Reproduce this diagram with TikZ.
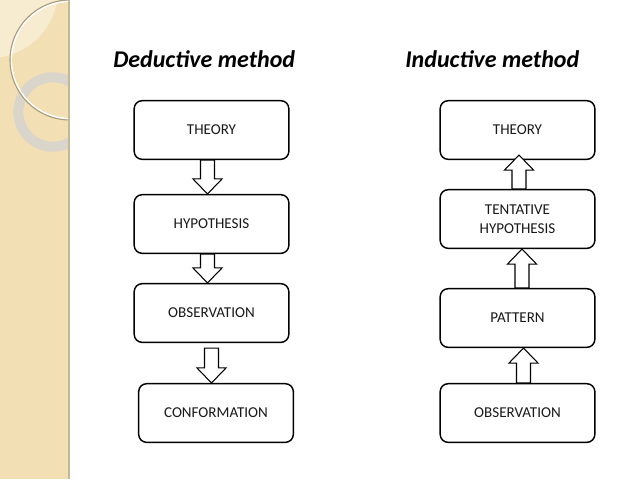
\documentclass[tikz,border=0pt]{standalone}
\usepackage{fontspec}
\setmainfont{Carlito}
\usetikzlibrary{calc}

\definecolor{band}{HTML}{F2DFB4}
\definecolor{bandlight}{HTML}{F7EBD0}
\definecolor{bandedge}{HTML}{C6B794}
\definecolor{ringgrey}{HTML}{DAD5CB}
\definecolor{arcbrown}{HTML}{A8997A}

\tikzset{
	box/.style={draw, line width=1.1pt, rounded corners=6pt, fill=white,
		minimum width=116pt, minimum height=44pt, align=center,
		font=\fontsize{11.3}{14.4}\selectfont, text=black!90},
	blk/.style={draw, line width=0.8pt, fill=white, line join=miter},
	title/.style={anchor=base west, inner sep=0pt,
		font=\fontsize{18}{20}\selectfont\bfseries\itshape}
}

\begin{document}
\begin{tikzpicture}[x=0.75pt,y=-0.75pt]

\useasboundingbox (0,0) rectangle (638,479);

% left band
\fill[band] (0,0) rectangle (68,479);
\begin{scope}
	\clip (0,0) rectangle (68,479);
	\fill[bandlight] (-10,-10) circle[radius=51pt];
	\draw[ringgrey, line width=7.5pt] (53,112) circle[radius=26pt];
	\draw[white, line width=1.2pt] (70,60) circle[radius=44pt];
	\draw[arcbrown, line width=0.8pt] (70,60) circle[radius=45pt];
\end{scope}
\draw[bandedge, line width=1.5pt] (69,0) -- (69,479);

% titles
\node[title] (dtitle) at (113,67) {Deductive method};
\node[title] (ititle) at (405,67) {Inductive method};

% deductive
\node[box] (dtheory) at (211.5,130) {THEORY};
\node[box] (dhyp) at (211.5,224) {HYPOTHESIS};
\node[box] (dobs) at (211.5,313) {OBSERVATION};
\node[box] (dconf) at (216,413) {CONFORMATION};

% inductive
\node[box] (itheory) at (517.5,130) {THEORY};
\node[box] (ihyp) at (517.5,219) {TENTATIVE\\HYPOTHESIS};
\node[box] (ipat) at (517.5,318) {PATTERN};
\node[box] (iobs) at (517.5,413) {OBSERVATION};

% block arrows: from / to / x shift / start shift / tip shift
\foreach \a/\b/\dx/\ds/\dt in {
	dtheory.south/dhyp.north/-4/0/0,
	dhyp.south/dobs.north/-4/0/0,
	dobs.south/dconf.north/0/5/0,
	ihyp.north/itheory.south/1.5/0/-5,
	ipat.north/ihyp.south/4.5/0/0,
	iobs.north/ipat.south/6/0/0} {
	\coordinate (s) at ($(\a)+(\dx,\ds)$);
	\coordinate (t) at ($(s |- \b)+(0,\dt)$);
	\coordinate (h) at ($(t)!11.25pt!(s)$);
	\draw[blk] ($(s)!5.25pt!90:(t)$) -- ($(h)!5.25pt!-90:(s)$)
		-- ($(h)!10.9pt!-90:(s)$) -- (t) -- ($(h)!10.9pt!90:(s)$)
		-- ($(h)!5.25pt!90:(s)$) -- ($(s)!5.25pt!-90:(t)$) -- cycle;
}

\end{tikzpicture}
\end{document}
